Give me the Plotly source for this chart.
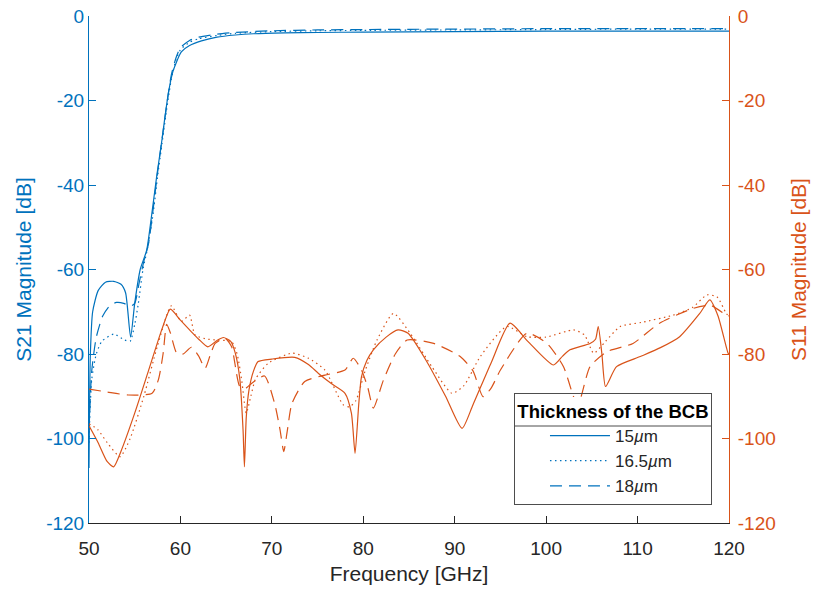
import plotly.graph_objects as go

BLUE = "#0072BD"
ORANGE = "#D95319"
DARK = "#262626"

thickness_labels = ["15<i>µ</i>m", "16.5<i>µ</i>m", "18<i>µ</i>m"]

# S21 (left axis)
s21_15_x = [50, 50.15, 50.4, 51, 51.8, 52.7, 53.5, 54.0, 54.55, 55.0, 55.6, 56.3, 56.8, 57.4, 58.0, 58.3, 58.7, 59.2, 60.1, 61, 62.3, 64, 66, 68, 71.4, 75, 80, 90, 100, 110, 120]
s21_15_y = [-107, -80, -70, -65, -63, -62.8, -63.5, -65.5, -76, -68, -60, -55.5, -48, -38, -29, -24, -18, -13, -8.5, -7, -5.9, -5, -4.5, -4.2, -4.0, -3.9, -3.8, -3.7, -3.6, -3.6, -3.6]

s21_165_x = [50, 50.3, 50.8, 51.4, 52.7, 53.9, 54.5, 55, 55.4, 55.9, 56.4, 57, 57.5, 58, 58.5, 59, 59.5, 60, 61, 62, 64, 66, 70, 75, 80, 90, 100, 110, 120]
s21_165_y = [-101, -86, -80, -77, -75.3, -76.7, -77, -73, -68, -60, -55, -47, -38, -30, -22, -15, -10.5, -8, -6.2, -5.4, -4.6, -4.1, -3.7, -3.5, -3.4, -3.3, -3.2, -3.1, -3.1]

s21_18_x = [50, 50.3, 50.8, 51.5, 52.3, 53, 53.8, 54.5, 55, 55.5, 56, 56.5, 57, 57.5, 58, 58.5, 59, 59.5, 60, 61, 62, 64, 66, 70, 75, 80, 90, 100, 110, 120]
s21_18_y = [-98, -84, -76, -71, -68.5, -67.8, -68, -68.7, -68, -63, -58, -54, -46, -37, -29, -21, -14, -10, -7.5, -5.8, -5, -4.3, -3.9, -3.5, -3.3, -3.2, -3.1, -3.0, -3.0, -3.0]

# S11 (right axis)
s11_15_x = [50, 51, 52, 52.7, 53.5, 55, 56.5, 58, 58.9, 60, 61, 62, 63, 64, 64.7, 65.5, 66, 66.5, 66.85, 67.0, 67.2, 67.5, 68, 68.5, 70, 72.5, 74, 75.1, 76.5, 78, 78.7, 79.1, 79.5, 79.8, 80.4, 81.1, 82.5, 83.8, 84.9, 87, 89, 90.8, 92, 94, 96.05, 98, 100.8, 101.8, 102.6, 104.8, 105.4, 105.7, 106.1, 106.5, 107.7, 110.3, 112.5, 114.6, 116.8, 117.9, 118.8, 119.9, 120]
s11_15_y = [-97, -101, -105.5, -106.7, -103, -94, -84, -74, -69.4, -72, -74.3, -76.5, -78.3, -76.8, -76.1, -77, -79.8, -86, -98, -106.7, -95, -88.5, -84, -81.8, -81.2, -80.8, -82.5, -84.6, -87, -89.3, -94, -103.5, -92, -85.4, -81.5, -79, -76, -74.3, -75.1, -82, -90, -97.6, -92, -82, -72.7, -77, -82.6, -80.5, -79, -77.5, -76.5, -73.5, -80, -87.7, -83, -80.6, -78.5, -75.9, -70.4, -67.2, -71, -79.8, -80]

s11_165_x = [50, 51, 52, 53.4, 54.5, 56, 57.5, 59, 60.1, 61, 61.6, 63, 64.1, 65.6, 66.2, 66.7, 67.2, 67.7, 68.2, 69.6, 72.2, 74, 75.8, 77.8, 78.5, 79.2, 80.2, 81.5, 83.3, 85.1, 87.5, 89.7, 91, 92.8, 95.7, 97.9, 100, 103, 104.2, 105.2, 106.5, 108.1, 110.5, 113.9, 116, 117.6, 118.7, 119.7, 120]
s11_165_y = [-96.5, -98, -101, -104.3, -100, -90, -78, -68.6, -72.3, -70.8, -75.5, -76.5, -76.7, -77.1, -80, -86.2, -94, -90, -86, -82.2, -79.8, -81, -83.8, -92, -92.5, -91, -84, -76.7, -70.4, -75, -83, -89.3, -87.5, -80.6, -73.5, -75.9, -76, -74.3, -75.5, -79.8, -77, -73.5, -72.5, -70.8, -69, -66, -66.5, -70.4, -71]

s11_18_x = [50, 52, 54.3, 56.9, 57.6, 58.1, 58.5, 58.9, 59.6, 60.3, 61.2, 62, 62.7, 63.3, 63.8, 64.9, 65.6, 66.5, 67.2, 67.8, 69.2, 70.3, 70.9, 71.3, 71.7, 72.2, 73.6, 75.8, 78, 78.9, 79.8, 80.5, 81.1, 82.2, 83.5, 84.8, 87.7, 90.6, 92, 93.1, 94, 95, 97.9, 100.1, 101.9, 103, 103.5, 104.8, 106.6, 109.5, 112.4, 116.1, 118, 119.7, 120]
s11_18_y = [-88.3, -89, -89.7, -89.3, -86, -80, -73, -75, -79.8, -80, -78.4, -80.5, -83.4, -80, -77.5, -76.3, -78.3, -87.7, -88, -86.9, -85.2, -91.7, -98, -103.1, -98, -91.7, -86.5, -85, -83.8, -81, -83.8, -88, -92.8, -86.2, -80, -76.7, -77.5, -80.6, -84, -90.1, -88, -83.8, -75.1, -77.5, -83, -90.1, -92, -83, -79.5, -77.5, -72.7, -69.2, -68.5, -70.8, -71]

x_ticks = [50, 60, 70, 80, 90, 100, 110, 120]
y_ticks = [0, -20, -40, -60, -80, -100, -120]
y_ticktext = ["0", "-20", "-40", "-60", "-80", "-100", "-120"]

dashes = ["solid", "1.5px,3.5px", "12px,7px"]

s21 = [(s21_15_x, s21_15_y), (s21_165_x, s21_165_y), (s21_18_x, s21_18_y)]
s11 = [(s11_15_x, s11_15_y), (s11_165_x, s11_165_y), (s11_18_x, s11_18_y)]

fig = go.Figure()
for (xs, ys), name, d in zip(s21, thickness_labels, dashes):
    fig.add_trace(go.Scatter(x=xs, y=ys, mode="lines", name=name, yaxis="y",
                             line=dict(color=BLUE, width=1.2, dash=d, shape="spline", smoothing=0.6)))
for (xs, ys), name, d in zip(s11, thickness_labels, dashes):
    fig.add_trace(go.Scatter(x=xs, y=ys, mode="lines", name=name, yaxis="y2", showlegend=False,
                             line=dict(color=ORANGE, width=1.2, dash=d, shape="spline", smoothing=0.6)))

FONT = "Liberation Sans, Arial, Helvetica, sans-serif"

fig.update_layout(
    width=816, height=594,
    margin=dict(l=89, r=87, t=16, b=71, autoexpand=False),
    paper_bgcolor="white", plot_bgcolor="white",
    font=dict(family=FONT, size=19, color=DARK),
    xaxis=dict(range=[50, 120], tickvals=x_ticks, ticks="inside", ticklen=7, tickcolor=DARK,
               showline=True, linecolor=DARK, linewidth=1, showgrid=False, zeroline=False,
               tickfont=dict(size=19, color=DARK), ticklabelstandoff=8,
               title=dict(text="Frequency [GHz]", font=dict(size=21, color=DARK), standoff=8)),
    yaxis=dict(range=[-120, 0], tickvals=y_ticks, ticktext=y_ticktext, ticks="inside", ticklen=7,
               tickcolor=BLUE, showline=True, linecolor=BLUE, linewidth=1, showgrid=False, zeroline=False,
               tickfont=dict(size=19, color=BLUE),
               title=dict(text="S21 Magnitude [dB]", font=dict(size=21, color=BLUE), standoff=8)),
    yaxis2=dict(range=[-120, 0], tickvals=y_ticks, ticktext=y_ticktext, ticks="inside", ticklen=7,
                tickcolor=ORANGE, showline=True, linecolor=ORANGE, linewidth=1, showgrid=False, zeroline=False,
                overlaying="y", side="right", anchor="x",
                tickfont=dict(size=19, color=ORANGE), ticklabelstandoff=4,
                title=dict(text="S11 Magnitude [dB]", font=dict(size=21, color=ORANGE), standoff=16)),
    legend=dict(x=0.9734, y=0.0355, xanchor="right", yanchor="bottom",
                bgcolor="rgba(0,0,0,0)", bordercolor="#4d4d4d", borderwidth=1,
                font=dict(size=17, color=DARK), itemwidth=60, tracegroupgap=0, indentation=30,
                title=dict(text="<b>Thickness of the BCB</b>", side="top center",
                           font=dict(size=18.5, color="black"))),
    showlegend=True,
)

# white backing for the legend box (drawn above traces, below the legend)
fig.add_shape(type="rect", xref="paper", yref="paper", x0=0.6645, x1=0.9730, y0=0.0365, y1=0.2485,
              fillcolor="white", line=dict(width=0), layer="above")
# separator between legend title and entries
fig.add_shape(type="line", xref="paper", yref="paper", x0=0.6645, x1=0.9730, y0=0.1913, y1=0.1913,
              line=dict(color="#4d4d4d", width=1), layer="above")

fig.write_html("out.html")
